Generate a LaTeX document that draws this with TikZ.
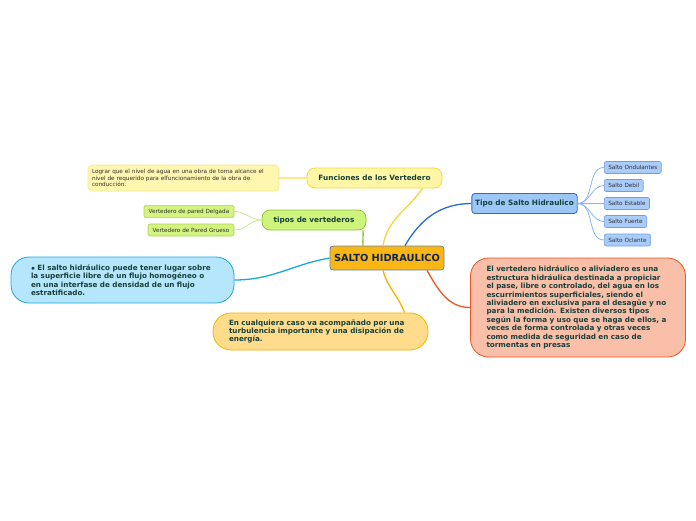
\documentclass[tikz,border=0pt]{standalone}
\usepackage{fontspec}
\setmainfont{DejaVu Sans}
\usetikzlibrary{positioning}
\definecolor{ctext}{HTML}{17403A}
\definecolor{cnavy}{HTML}{0E2350}
\definecolor{cleaftext}{HTML}{303030}
\definecolor{crootfill}{HTML}{F9B615}
\definecolor{crootdraw}{HTML}{5B86B8}
\definecolor{cyelfill}{HTML}{FFF7A6}
\definecolor{cyeldraw}{HTML}{F2D83C}
\definecolor{cyelnote}{HTML}{FFF6B0}
\definecolor{cyelline}{HTML}{F9EA90}
\definecolor{cgrnfill}{HTML}{CFF47C}
\definecolor{cgrndraw}{HTML}{8DC43D}
\definecolor{cgrnleaf}{HTML}{D4F480}
\definecolor{cgrnleafdraw}{HTML}{A8D35A}
\definecolor{cgrnline}{HTML}{C7E79A}
\definecolor{cbluefill}{HTML}{9DC7F7}
\definecolor{cbluedraw}{HTML}{2A6BD0}
\definecolor{cblueleaf}{HTML}{A9CCFA}
\definecolor{cblueleafdraw}{HTML}{6C9FE8}
\definecolor{cblueline}{HTML}{8AB5EE}
\definecolor{ccyanfill}{HTML}{B5E6FB}
\definecolor{ccyandraw}{HTML}{1BA6E0}
\definecolor{corgfill}{HTML}{FFDB8C}
\definecolor{corgdraw}{HTML}{F4B400}
\definecolor{credfill}{HTML}{F9BFA9}
\definecolor{creddraw}{HTML}{EF5421}
\tikzset{
  every picture/.style={x=1pt, y=1pt},
  root/.style={draw=crootdraw, fill=crootfill, rounded corners=3pt, line width=0.8pt,
    text=cnavy, font=\bfseries\fontsize{9.8}{11}\selectfont, minimum width=114pt, minimum height=24pt},
  branch/.style 2 args={draw=#1, fill=#2, rounded corners=8pt, line width=0.8pt,
    text=ctext, font=\bfseries\fontsize{7.3}{8.5}\selectfont, minimum height=20pt},
  leaf/.style 2 args={draw=#1, fill=#2, rounded corners=2pt, line width=0.6pt,
    text=cleaftext, font=\fontsize{5.7}{6.6}\selectfont, minimum height=12pt, inner xsep=4pt},
  bubble/.style 2 args={draw=#1, fill=#2, rounded corners=18pt, line width=0.8pt,
    text=ctext, font=\bfseries\fontsize{7.2}{8.4}\selectfont, align=left, text width=183pt},
  link/.style={draw=#1, line width=1.3pt},
  twig/.style={draw=#1, line width=0.8pt},
}
\begin{document}
\begin{tikzpicture}
  \useasboundingbox (0,0) rectangle (696,-520);
  % central topic
  \node[root] (salto) at (387,-258) {SALTO HIDRAULICO};
  % main branches
  \node[branch={cyeldraw}{cyelfill}, minimum width=135pt] (funciones) at (374.5,-178) {Funciones de los Vertedero};
  \node[branch={cgrndraw}{cgrnfill}, minimum width=104pt] (tipos) at (314,-220) {tipos de vertederos};
  \node[branch={cbluedraw}{cbluefill}, minimum width=105pt, rounded corners=3pt] (tiposalto) at (524.5,-203.5) {Tipo de Salto Hidraulico};
  \node[bubble={ccyandraw}{ccyanfill}, inner xsep=20pt, minimum height=46pt] (superficie) at (122.5,-280)
    {$\bullet$ El salto hidráulico puede tener lugar sobre\\la superficie libre de un flujo homogéneo o\\en una interfase de densidad de un flujo\\estratificado.};
  \node[bubble={corgdraw}{corgfill}, inner xsep=16pt, minimum height=37pt] (turbulencia) at (320.5,-331.5)
    {En cualquiera caso va acompañado por una\\turbulencia importante y una disipación de\\energía.};
  \node[bubble={creddraw}{credfill}, inner xsep=16pt, minimum height=99pt] (vertedero) at (578,-307.5)
    {El vertedero hidráulico o aliviadero es una\\estructura hidráulica destinada a propiciar\\el pase, libre o controlado, del agua en los\\escurrimientos superficiales, siendo el\\aliviadero en exclusiva para el desagüe y no\\para la medición. Existen diversos tipos\\según la forma y uso que se haga de ellos, a\\veces de forma controlada y otras veces\\como medida de seguridad en caso de\\tormentas en presas};
  % leaves
  \node[leaf={cyeldraw!60}{cyelnote}, rounded corners=4pt, text width=183pt, minimum height=26pt, align=left] (lograr) at (183.5,-178)
    {Lograr que el nivel de agua en una obra de toma alcance el\\nivel de requerido para elfuncionamiento de la obra de\\conducción.};
  \node[leaf={cgrnleafdraw}{cgrnleaf}, minimum width=90pt, minimum height=11pt] (delgada) at (189,-211.5) {Vertedero de pared Delgada};
  \node[leaf={cgrnleafdraw}{cgrnleaf}, minimum width=86pt] (grueso) at (191,-230) {Vertedero de Pared Grueso};
  \node[leaf={cblueleafdraw}{cblueleaf}, anchor=west] (ondulantes) at (604,-167.5) {Salto Ondulantes};
  \node[leaf={cblueleafdraw}{cblueleaf}, anchor=west] (debil) at (604,-185.5) {Salto Debil};
  \node[leaf={cblueleafdraw}{cblueleaf}, anchor=west] (estable) at (604,-203.5) {Salto Estable};
  \node[leaf={cblueleafdraw}{cblueleaf}, anchor=west] (fuerte) at (604,-221.5) {Salto Fuerte};
  \node[leaf={cblueleafdraw}{cblueleaf}, anchor=west] (oclante) at (604,-240) {Salto Oclante};
  % connectors from the centre
  \draw[link=cyeldraw] ([xshift=-4pt]salto.north) to[out=80, in=-125] ([xshift=48pt]funciones.south);
  \draw[link=cgrndraw] ([xshift=-24pt]salto.north) to[out=95, in=-85] ([xshift=49pt]tipos.south);
  \draw[link=cbluedraw] ([xshift=18pt]salto.north) to[out=60, in=180] (tiposalto.west);
  \draw[link=ccyandraw] (salto.west) to[out=190, in=0] (superficie.east);
  \draw[link=corgdraw] ([xshift=-4pt]salto.south) to[out=-75, in=110] ([xshift=84pt]turbulencia.north);
  \draw[link=creddraw] ([xshift=40pt]salto.south) to[out=-60, in=180] (vertedero.west);
  % connectors to leaves
  \draw[link=cyelline] (funciones.west) -- (lograr.east);
  \foreach \l in {delgada, grueso}
    \draw[twig=cgrnline] (tipos.west) to[out=180, in=0] (\l.east);
  \foreach \l in {ondulantes, debil, estable, fuerte, oclante}
    \draw[twig=cblueline] (tiposalto.east) to[out=0, in=180] (\l.west);
\end{tikzpicture}
\end{document}
